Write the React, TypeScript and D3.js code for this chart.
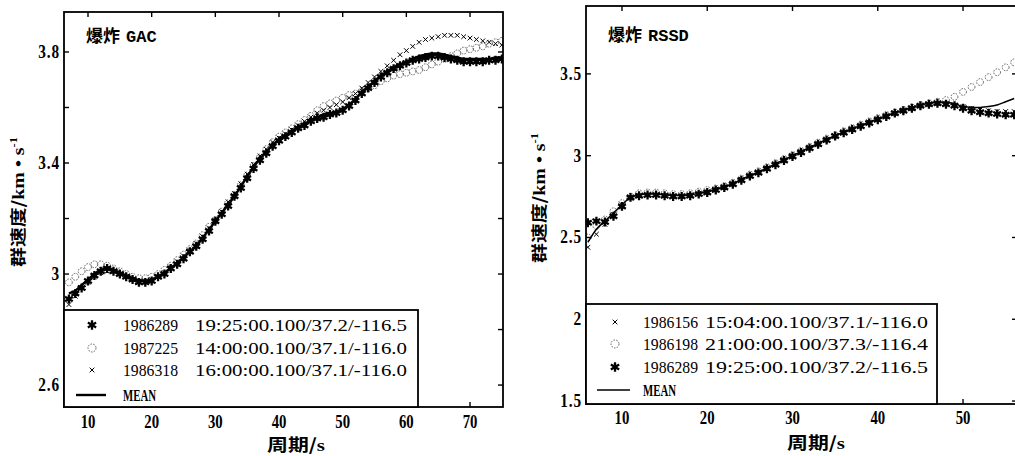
import React from 'react';
import * as d3 from 'd3';

// ---------------- DATA ----------------
// Left panel: 爆炸 GAC  (period 7..75 s)
const gacPeriods = d3.range(7, 76);
const gacMean = [
  2.93, 2.94, 2.96, 2.98, 3.0, 3.015, 3.02, 3.015, 3.005, 2.995,
  2.985, 2.978, 2.975, 2.98, 2.99, 3.005, 3.02, 3.04, 3.06, 3.08,
  3.1, 3.13, 3.16, 3.19, 3.22, 3.25, 3.28, 3.315, 3.35, 3.385,
  3.415, 3.44, 3.465, 3.485, 3.5, 3.515, 3.53, 3.54, 3.555, 3.565,
  3.575, 3.58, 3.585, 3.595, 3.61, 3.63, 3.655, 3.675, 3.695, 3.715,
  3.73, 3.745, 3.755, 3.765, 3.775, 3.785, 3.79, 3.795, 3.795, 3.79,
  3.785, 3.78, 3.775, 3.775, 3.775, 3.775, 3.775, 3.78, 3.78,
];
const gac1986289 = [
  2.91, 2.93, 2.95, 2.975, 2.995, 3.01, 3.02, 3.01, 3.0, 2.99,
  2.98, 2.97, 2.97, 2.975, 2.99, 3.0, 3.02, 3.035, 3.055, 3.08,
  3.1, 3.125, 3.155, 3.19, 3.215, 3.245, 3.28, 3.31, 3.345, 3.38,
  3.41, 3.435, 3.46, 3.48, 3.495, 3.51, 3.525, 3.535, 3.55, 3.56,
  3.565, 3.575, 3.58, 3.59, 3.605, 3.625, 3.65, 3.67, 3.69, 3.71,
  3.725, 3.74, 3.75, 3.76, 3.77, 3.775, 3.78, 3.785, 3.785, 3.78,
  3.775, 3.77, 3.765, 3.765, 3.765, 3.765, 3.77, 3.77, 3.775,
];
const gac1987225 = [
  2.97, 2.99, 3.01, 3.025, 3.035, 3.035, 3.03, 3.02, 3.01, 3.0,
  2.99, 2.985, 2.985, 2.99, 3.0, 3.015, 3.03, 3.05, 3.07, 3.09,
  3.11, 3.14, 3.17, 3.195, 3.225, 3.255, 3.285, 3.32, 3.355, 3.39,
  3.42, 3.45, 3.475, 3.495, 3.51, 3.525, 3.54, 3.555, 3.57, 3.59,
  3.605, 3.615, 3.625, 3.635, 3.645, 3.65, 3.66, 3.67, 3.68, 3.695,
  3.705, 3.715, 3.72, 3.725, 3.73, 3.735, 3.745, 3.755, 3.765, 3.775,
  3.785, 3.795, 3.805, 3.81, 3.815, 3.82, 3.83, 3.835, 3.84,
];
const gac1986318 = [
  2.89, 2.92, 2.95, 2.97, 2.99, 3.005, 3.01, 3.01, 3.0, 2.99,
  2.98, 2.975, 2.975, 2.98, 2.99, 3.005, 3.025, 3.045, 3.065, 3.085,
  3.11, 3.135, 3.165, 3.195, 3.225, 3.26, 3.29, 3.325, 3.36, 3.395,
  3.425, 3.45, 3.475, 3.49, 3.505, 3.52, 3.535, 3.55, 3.565, 3.58,
  3.59, 3.6, 3.61, 3.62, 3.635, 3.65, 3.67, 3.69, 3.71, 3.73,
  3.75, 3.77, 3.79, 3.805, 3.82, 3.835, 3.845, 3.85, 3.855, 3.86,
  3.86, 3.86, 3.855, 3.85, 3.845, 3.84, 3.835, 3.83, 3.825,
];
const gacXTicks = [10, 20, 30, 40, 50, 60, 70];
const gacYTicks = [2.6, 2.8, 3.0, 3.2, 3.4, 3.6, 3.8];
const gacYLabels = ['2.6', '', '3', '', '3.4', '', '3.8'];

// Right panel: 爆炸 RSSD (period 6..56 s)
const rssdPeriods = d3.range(6, 57);
const rssdMean = [
  2.47, 2.55, 2.6, 2.65, 2.7, 2.745, 2.76, 2.765, 2.765, 2.76,
  2.758, 2.756, 2.76, 2.77, 2.78, 2.795, 2.81, 2.83, 2.855, 2.878,
  2.9, 2.925, 2.95, 2.975, 3.0, 3.025, 3.05, 3.075, 3.1, 3.122,
  3.145, 3.165, 3.185, 3.205, 3.226, 3.245, 3.262, 3.28, 3.295, 3.31,
  3.32, 3.325, 3.325, 3.318, 3.3, 3.295, 3.295, 3.3, 3.31, 3.33, 3.35,
];
const rssd1986156 = [
  2.44, 2.52, 2.58, 2.64, 2.7, 2.74, 2.755, 2.76, 2.76, 2.755,
  2.755, 2.755, 2.76, 2.77, 2.78, 2.795, 2.81, 2.83, 2.855, 2.88,
  2.9, 2.925, 2.95, 2.975, 3.0, 3.025, 3.05, 3.075, 3.1, 3.12,
  3.145, 3.165, 3.185, 3.205, 3.225, 3.245, 3.26, 3.275, 3.29, 3.305,
  3.315, 3.32, 3.32, 3.31, 3.3, 3.29, 3.28, 3.275, 3.27, 3.27, 3.27,
];
const rssd1986198 = [
  2.5, 2.57, 2.61, 2.66, 2.71, 2.75, 2.77, 2.775, 2.775, 2.77,
  2.765, 2.765, 2.77, 2.78, 2.79, 2.8, 2.815, 2.835, 2.86, 2.885,
  2.905, 2.93, 2.955, 2.98, 3.005, 3.03, 3.055, 3.08, 3.105, 3.125,
  3.15, 3.17, 3.19, 3.21, 3.23, 3.25, 3.265, 3.28, 3.295, 3.31,
  3.32, 3.33, 3.34, 3.36, 3.39, 3.42, 3.45, 3.48, 3.51, 3.54, 3.57,
];
const rssd1986289 = [
  2.59, 2.6, 2.595, 2.63, 2.69, 2.745, 2.755, 2.76, 2.76, 2.755,
  2.75, 2.75, 2.755, 2.765, 2.775, 2.79, 2.805, 2.825, 2.85, 2.875,
  2.895, 2.92, 2.945, 2.97, 2.995, 3.02, 3.045, 3.07, 3.095, 3.12,
  3.14, 3.16, 3.18, 3.2, 3.22, 3.24, 3.26, 3.275, 3.29, 3.305,
  3.315, 3.32, 3.315, 3.305, 3.29, 3.275, 3.265, 3.26, 3.255, 3.25, 3.25,
];
const rssdXTicks = [10, 20, 30, 40, 50];
const rssdYTicks = [1.5, 2.0, 2.5, 3.0, 3.5];
const rssdYLabels = ['1.5', '2', '2.5', '3', '3.5'];

// ---------------- RENDERING ----------------
type Kind = 'star' | 'circle' | 'cross';
type Series = { id: string; rest: string; kind: Kind; values: number[] };

const SERIF = 'Liberation Serif, DejaVu Serif, serif';
const CJK = 'Noto Sans CJK SC, sans-serif';
const MONO = 'Liberation Mono, DejaVu Sans Mono, monospace';

const starPath = d3.symbol(d3.symbolAsterisk, 56)() as string;
const starPathBig = d3.symbol(d3.symbolAsterisk, 64)() as string;
const crossPath = d3.symbol(d3.symbolTimes, 16)() as string;

function Marker({ kind, x, y, legend = false }: { kind: Kind; x: number; y: number; legend?: boolean }) {
  if (kind === 'star') {
    return (
      <g transform={`translate(${x},${y})`}>
        <path d={legend ? starPathBig : starPath} stroke="#000" strokeWidth={2.3} fill="none" />
        <circle r={2.4} fill="#000" />
      </g>
    );
  }
  if (kind === 'circle') {
    return (
      <circle cx={x} cy={y} r={legend ? 4 : 3.4} fill="none" stroke="#555" strokeWidth={0.9} strokeDasharray="1.6 1.2" />
    );
  }
  return <path transform={`translate(${x},${y})`} d={crossPath} stroke="#000" strokeWidth={1} fill="none" />;
}

type PanelProps = {
  uid: string;
  box: { l: number; r: number; t: number; b: number };
  xDomain: [number, number];
  yDomain: [number, number];
  xTicks: number[];
  yTicks: number[];
  yLabels: string[];
  periods: number[];
  series: Series[]; // legend order
  drawOrder: number[];
  mean: number[];
  meanWidth: number;
  title: string;
  titleY: number;
  legendBox: { r: number; t: number };
  legendRows: number[];
  markerX: number;
  idX: number;
  restX: number;
  restW: number;
  meanLine: [number, number];
  yLabelX: number;
  yLabelY: number;
  xLabelX: number;
  xLabelY: number;
  xTickY: number;
};

function Panel(p: PanelProps) {
  const x = d3.scaleLinear().domain(p.xDomain).range([p.box.l, p.box.r]);
  const y = d3.scaleLinear().domain(p.yDomain).range([p.box.b, p.box.t]);
  const line = d3
    .line<number>()
    .x((_, i) => x(p.periods[i]))
    .y((d) => y(d))
    .curve(d3.curveMonotoneX);
  const tl = 5;
  return (
    <g>
      <defs>
        <clipPath id={`clip-${p.uid}`}>
          <rect x={p.box.l} y={p.box.t} width={p.box.r - p.box.l} height={p.box.b - p.box.t} />
        </clipPath>
      </defs>
      <g clipPath={`url(#clip-${p.uid})`}>
        {p.drawOrder.map((si) =>
          p.series[si].values.map((v, i) => (
            <Marker key={`${si}-${i}`} kind={p.series[si].kind} x={x(p.periods[i])} y={y(v)} />
          ))
        )}
        <path d={line(p.mean) as string} fill="none" stroke="#000" strokeWidth={p.meanWidth} />
      </g>
      {/* frame */}
      <rect x={p.box.l} y={p.box.t} width={p.box.r - p.box.l} height={p.box.b - p.box.t} fill="none" stroke="#000" strokeWidth={1.8} />
      {/* ticks */}
      {p.xTicks.map((t) => (
        <g key={`xt${t}`}>
          <line x1={x(t)} x2={x(t)} y1={p.box.b} y2={p.box.b - tl} stroke="#000" strokeWidth={1.4} />
          <line x1={x(t)} x2={x(t)} y1={p.box.t} y2={p.box.t + tl} stroke="#000" strokeWidth={1.4} />
          <text
            transform={`translate(${x(t)},${p.xTickY}) scale(0.82,1)`}
            textAnchor="middle"
            fontFamily={SERIF}
            fontWeight="bold"
            fontSize={18}
          >
            {t}
          </text>
        </g>
      ))}
      {p.yTicks.map((t, i) => (
        <g key={`yt${t}`}>
          <line x1={p.box.l} x2={p.box.l + tl} y1={y(t)} y2={y(t)} stroke="#000" strokeWidth={1.4} />
          <line x1={p.box.r} x2={p.box.r - tl} y1={y(t)} y2={y(t)} stroke="#000" strokeWidth={1.4} />
          {p.yLabels[i] && (
            <text
              transform={`translate(${p.box.l - 4},${y(t) + 6}) scale(0.85,1)`}
              textAnchor="end"
              fontFamily={SERIF}
              fontWeight="bold"
              fontSize={18}
              letterSpacing={1}
            >
              {p.yLabels[i]}
            </text>
          )}
        </g>
      ))}
      {/* title */}
      <text x={p.box.l + 22} y={p.titleY} fontSize={17} fontWeight="bold">
        <tspan fontFamily={CJK}>爆炸</tspan>
        <tspan fontFamily={MONO} dx={6}>{p.title}</tspan>
      </text>
      {/* legend */}
      <rect x={p.box.l} y={p.legendBox.t} width={p.legendBox.r - p.box.l} height={p.box.b - p.legendBox.t} fill="#fff" stroke="#000" strokeWidth={1.8} />
      {p.series.map((s, i) => (
        <g key={`lg${i}`}>
          <Marker kind={s.kind} x={p.markerX} y={p.legendRows[i]} legend />
          <text x={p.idX} y={p.legendRows[i] + 6} fontFamily={SERIF} fontSize={17} textLength={55} lengthAdjust="spacingAndGlyphs">
            {s.id}
          </text>
          <text x={p.restX} y={p.legendRows[i] + 6} fontFamily={SERIF} fontSize={17} textLength={p.restW} lengthAdjust="spacingAndGlyphs">
            {s.rest}
          </text>
        </g>
      ))}
      <line x1={p.meanLine[0]} x2={p.meanLine[1]} y1={p.legendRows[3]} y2={p.legendRows[3]} stroke="#000" strokeWidth={p.meanWidth} />
      <text x={p.idX} y={p.legendRows[3] + 6} fontFamily={SERIF} fontWeight="bold" fontSize={16} textLength={33} lengthAdjust="spacingAndGlyphs">
        MEAN
      </text>
      {/* axis labels */}
      <text
        transform={`translate(${p.yLabelX},${p.yLabelY}) rotate(-90) scale(1,0.85)`}
        textAnchor="middle"
        fontSize={19}
        fontWeight="bold"
        textLength={130}
        lengthAdjust="spacingAndGlyphs"
      >
        <tspan fontFamily={CJK}>群速度/</tspan>
        <tspan fontFamily={SERIF}>km • s</tspan>
        <tspan fontFamily={SERIF} fontSize={12} dy={-8}>-1</tspan>
      </text>
      <text
        x={p.xLabelX}
        y={p.xLabelY}
        textAnchor="middle"
        fontSize={17}
        fontWeight="bold"
        textLength={58}
        lengthAdjust="spacingAndGlyphs"
      >
        <tspan fontFamily={CJK}>周期/</tspan>
        <tspan fontFamily={SERIF}>s</tspan>
      </text>
    </g>
  );
}

export default function App() {
  const gacSeries: Series[] = [
    { id: '1986289', rest: '19:25:00.100/37.2/-116.5', kind: 'star', values: gac1986289 },
    { id: '1987225', rest: '14:00:00.100/37.1/-116.0', kind: 'circle', values: gac1987225 },
    { id: '1986318', rest: '16:00:00.100/37.1/-116.0', kind: 'cross', values: gac1986318 },
  ];
  const rssdSeries: Series[] = [
    { id: '1986156', rest: '15:04:00.100/37.1/-116.0', kind: 'cross', values: rssd1986156 },
    { id: '1986198', rest: '21:00:00.100/37.3/-116.4', kind: 'circle', values: rssd1986198 },
    { id: '1986289', rest: '19:25:00.100/37.2/-116.5', kind: 'star', values: rssd1986289 },
  ];
  return (
    <div style={{ position: 'absolute', left: 0, top: 0 }}>
      <svg width={1015} height={456} style={{ display: 'block', background: '#fff' }}>
        <Panel
          uid="gac"
          box={{ l: 64, r: 503, t: 12, b: 407 }}
          xDomain={[6.23, 75.18]}
          yDomain={[2.521, 3.944]}
          xTicks={gacXTicks}
          yTicks={gacYTicks}
          yLabels={gacYLabels}
          periods={gacPeriods}
          series={gacSeries}
          drawOrder={[1, 2, 0]}
          mean={gacMean}
          meanWidth={2.4}
          title="GAC"
          titleY={42}
          legendBox={{ r: 418, t: 310 }}
          legendRows={[325, 348, 370, 395]}
          markerX={92}
          idX={123}
          restX={195}
          restW={212}
          meanLine={[76, 106]}
          yLabelX={24}
          yLabelY={202}
          xLabelX={296}
          xLabelY={451}
          xTickY={428}
        />
        <Panel
          uid="rssd"
          box={{ l: 586, r: 1017, t: 6, b: 404 }}
          xDomain={[5.78, 56.33]}
          yDomain={[1.482, 3.915]}
          xTicks={rssdXTicks}
          yTicks={rssdYTicks}
          yLabels={rssdYLabels}
          periods={rssdPeriods}
          series={rssdSeries}
          drawOrder={[1, 0, 2]}
          mean={rssdMean}
          meanWidth={1.5}
          title="RSSD"
          titleY={41}
          legendBox={{ r: 937, t: 304 }}
          legendRows={[322, 344, 367, 390]}
          markerX={615}
          idX={643}
          restX={705}
          restW={223}
          meanLine={[597, 630]}
          yLabelX={545}
          yLabelY={198}
          xLabelX={816}
          xLabelY={449}
          xTickY={424}
        />
      </svg>
    </div>
  );
}
